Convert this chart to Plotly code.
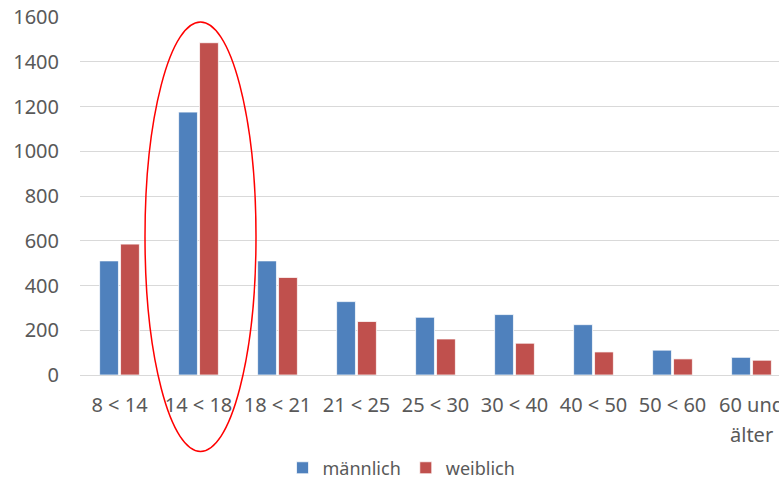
import plotly.graph_objects as go

categories = ["8 < 14", "14 < 18", "18 < 21", "21 < 25", "25 < 30", "30 < 40", "40 < 50", "50 < 60", "60 und"]
last_label_line2 = "älter"
maennlich = [510, 1175, 510, 328, 258, 270, 225, 111, 79]
weiblich = [585, 1485, 436, 239, 161, 142, 103, 72, 66]
y_ticks = [0, 200, 400, 600, 800, 1000, 1200, 1400, 1600]

BLUE = "#4F81BD"
RED = "#C0504D"
GRAY = "#595959"
FONT = "Noto Sans"

xs = list(range(len(categories)))
fig = go.Figure()
fig.add_trace(go.Bar(name="männlich", x=xs, y=maennlich,
                     marker=dict(color=BLUE, line=dict(color="white", width=0.75))))
fig.add_trace(go.Bar(name="weiblich", x=xs, y=weiblich,
                     marker=dict(color=RED, line=dict(color="white", width=0.75))))

W, H = 779, 480
L, T, B = 80, 17, 104.5
plot_w = W - L
plot_h = H - B - T
cat_w = 79.0
x_hi = -0.5 + plot_w / cat_w

fig.update_layout(
    width=W, height=H,
    margin=dict(l=L, r=0, t=T, b=B, pad=0, autoexpand=False),
    paper_bgcolor="white", plot_bgcolor="white",
    barmode="group", bargap=0.47, bargroupgap=0.1,
    font=dict(family=FONT, color=GRAY, size=20),
    showlegend=True,
    legend=dict(orientation="h", x=0.46, xanchor="center", y=-0.26, yanchor="middle",
                font=dict(size=18, color=GRAY), itemwidth=30, tracegroupgap=0,
                bgcolor="rgba(0,0,0,0)"),
    xaxis=dict(range=[-0.5, x_hi], tickmode="array", tickvals=xs,
               ticktext=categories, showgrid=False, zeroline=False, showline=False,
               ticks="", ticklabelstandoff=16, tickfont=dict(size=20, color=GRAY),
               ticklabeloverflow="allow", automargin=False, fixedrange=True),
    yaxis=dict(range=[0, 1600], tickvals=y_ticks, showgrid=True, gridcolor="#D9D9D9",
               gridwidth=1, zeroline=True, zerolinecolor="#D9D9D9", zerolinewidth=1,
               showline=False, ticks="", ticklabelstandoff=20, automargin=False,
               tickfont=dict(size=20, color=GRAY), fixedrange=True),
)

# second line of the last category label
fig.add_annotation(x=xs[-1], xref="x", y=(H - B - 435) / plot_h, yref="paper",
                   text=last_label_line2, showarrow=False, yanchor="middle",
                   font=dict(size=20, color=GRAY, family=FONT))

# red ellipse highlighting 14 < 18 (drawn shape, in paper coordinates)
fig.add_shape(type="circle", xref="paper", yref="paper",
              x0=(145 - L) / plot_w, x1=(256 - L) / plot_w,
              y0=(H - B - 452) / plot_h, y1=(H - B - 22) / plot_h,
              line=dict(color="#FF0000", width=1.5), layer="above")

fig.write_html("out.html", config={"displayModeBar": False},
               post_script="document.body.style.margin='0px';")
